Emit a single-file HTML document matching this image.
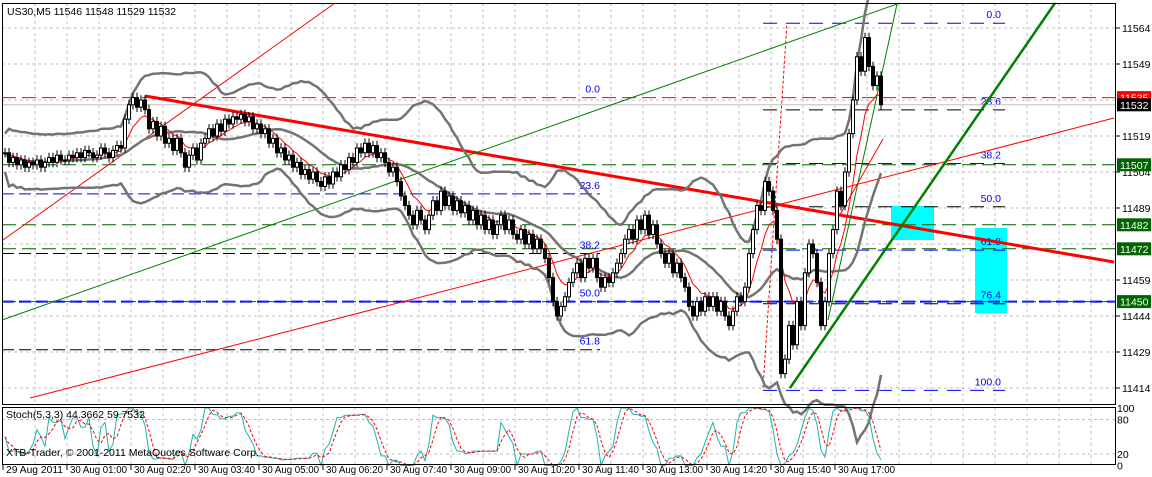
<!DOCTYPE html>
<html><head><meta charset="utf-8">
<style>
html,body{margin:0;padding:0;background:#fff;}
svg{display:block;font-family:"Liberation Sans",sans-serif;font-size:10.5px;}
</style></head>
<body>
<svg id="c" width="1152" height="477" viewBox="0 0 1152 477" xmlns="http://www.w3.org/2000/svg"></svg>
<script>
const closes=[11512,11508,11510,11507,11509,11506,11508,11507,11509,11506,11508,11510,11508,11511,11509,
11509,11511,11510,11512,11510,11513,11512,11510,11511,11514,11512,11510,11513,11515,11514,
11526,11532,11535,11531,11534,11530,
11522,11525,11519,11523,11516,11518,
11513,11518,11512,11506,11511,11514,11509,11516,11518,
11522,11519,11524,11521,11526,11524,11527,11526,11528,
11525,11527,11522,11524,11520,11522,
11516,11518,11512,11514,11509,11511,11506,
11508,11503,11505,11501,11504,11500,11498,11502,11499,
11504,11502,11507,11505,11510,11508,11514,11512,11516,11512,11515,
11510,11512,11508,11504,11506,
11500,11494,11490,11486,11482,11488,11484,11480,
11486,11492,11488,11496,11490,11494,11488,11492,11487,11490,
11484,11488,11482,11486,11480,11484,11478,11482,11486,11480,11484,11478,
11476,11480,11474,11478,11472,11476,11472,11468,
11460,11450,11444,11448,11452,
11458,11462,11466,11460,11468,11464,11468,
11460,11456,11460,11458,11462,11466,11470,11476,
11480,11476,11484,11480,11486,11478,11482,11474,
11470,11466,11470,11462,11466,11460,11456,
11448,11444,11450,11446,11452,
11448,11452,11446,11450,11444,11440,11446,
11452,11450,11456,
11470,11480,11490,11488,11500,11496,
11488,11476,11420,11426,11440,11432,11450,11440,11462,11474,11470,11458,11440,11450,
11470,11480,11496,11490,11504,11520,11534,11552,11546,11560,11548,11540,11544,11532];
const timeLabels=["29 Aug 2011","30 Aug 01:00","30 Aug 02:20","30 Aug 03:40","30 Aug 05:00","30 Aug 06:20","30 Aug 07:40","30 Aug 09:00","30 Aug 10:20","30 Aug 11:40","30 Aug 13:00","30 Aug 14:20","30 Aug 15:40","30 Aug 17:00"];
const priceTicks=[11564,11549,11519,11504,11489,11459,11444,11429,11414];
const fib1Levels=[0,23.6,38.2,50.0,61.8];
const fib2Levels=[0,23.6,38.2,50.0,61.8,76.4,100.0];
const priceBoxes=[[11535,"#ff0000"],[11532,"#000000"],[11507,"#006400"],[11482,"#006400"],[11472,"#006400"],[11450,"#006400"]];

const NS="http://www.w3.org/2000/svg";
const svg=document.getElementById('c');
function X(i){return 5+4*i;}
function Y(p){return 28+(11564-p)*2.4;}
function SY(v){return 465.5-v*0.575;}
function el(tag,attrs,parent){const e=document.createElementNS(NS,tag);for(const k in attrs)e.setAttribute(k,attrs[k]);(parent||svg).appendChild(e);return e;}
function line(x1,y1,x2,y2,stroke,w,dash,name){const e=el('line',{x1,y1,x2,y2,stroke,'stroke-width':w});if(dash)e.setAttribute('stroke-dasharray',dash);


return e;}
function text(x,y,s,fill,name,anchor){const e=el('text',{x,y,fill});e.textContent=s;if(anchor)e.setAttribute('text-anchor',anchor);


return e;}

// grid
for(let k=0;k<=10;k++){const y=28+36*k;line(2,y,1116,y,'#c0c0c0',1,'3,3','grid-line-h');}
for(let k=0;k<=33;k++){const x=35+32*k;line(x,3,x,405,'#c0c0c0',1,'3,3','grid-line-v');line(x,407,x,465,'#c0c0c0',1,'3,3','grid-line-v');}
line(2,419.5,1116,419.5,'#c0c0c0',1,'3,3','stoch-grid-80');
line(2,454,1116,454,'#c0c0c0',1,'3,3','stoch-grid-20');

// cyan rects
let r=el('rect',{x:891,y:206,width:43,height:34,fill:'#00ffff'});


r=el('rect',{x:975,y:228,width:32,height:85,fill:'#00ffff'});



// fib 1 (left)
const f1top=11535,f1rng=170;
const f1col=['#ff0000','#0000ff','#000000','#0000ff','#000000'];
fib1Levels.forEach((lv,j)=>{const p=f1top-f1rng*lv/100;const y=Y(p);
 if(j>0)line(2,y,j==3?1116:600,y,f1col[j],j==3?2:1,'12,5','fib1-level');
 text(600,y-5,lv.toFixed(1),'#0000ff','fib1-label','end');});
// fib 2 (right)
const f2top=11566,f2rng=153;
fib2Levels.forEach((lv,j)=>{const p=f2top-f2rng*lv/100;const y=Y(p);
 line(763,y,1005,y,(j%2==0)?'#0000ff':'#000000',1,'14,9','fib2-level');
 text(1001,y-5,lv.toFixed(1),'#0000ff','fib2-label','end');});

// horizontal levels
line(2,Y(11535),1116,Y(11535),'#ff0000',1,'14,6','resistance-11535');
line(2,Y(11532),1116,Y(11532),'#c0c0c0',1,null,'bid-line');
[11507,11482,11472].forEach(p=>line(2,Y(p),1116,Y(p),'#006400',1,'14,6','support-'+p));
line(2,Y(11450),1116,Y(11450),'#006400',1,'14,6','support-11450');

// trend lines
line(145,96,1114,262,'#ff0000',3,null,'main-downtrend-line');
line(3,240,335,3,'#ff0000',1,null,'red-channel-line');
line(30,398,1114,118,'#ff0000',1,null,'red-uptrend-line');
line(2,320,900,3,'#008000',1,null,'green-uptrend-line');
line(790,388,1055,3,'#008000',2.5,null,'green-steep-trend-line');
line(828,320,897,4,'#008000',1,null,'green-thin-trend-line');
line(763,388,787,23,'#ff0000',1,'3,2','red-dotted-line');
line(838,218,883,139,'#ff0000',1,null,'red-short-line');

// indicators
const n=closes.length;
const opens=closes.map((c,i)=>i?closes[i-1]:c);
const highs=closes.map((c,i)=>Math.max(c,opens[i])+2);
const lows=closes.map((c,i)=>Math.min(c,opens[i])-2);
const mid=[],up=[],dn=[],ema=[];
for(let i=0;i<n;i++){const s=closes.slice(Math.max(0,i-19),i+1);const m=s.reduce((a,b)=>a+b,0)/s.length;
 const sd=Math.sqrt(s.reduce((a,b)=>a+(b-m)*(b-m),0)/s.length);mid.push(m);up.push(m+2*sd+8);dn.push(m-2*sd-8);
 ema.push(i?ema[i-1]+(closes[i]-ema[i-1])*2/9:closes[i]);}
function poly(arr,stroke,w,name,yf){const pts=arr.map((v,i)=>X(i)+','+(yf||Y)(v).toFixed(1)).join(' ');
 const e=el('polyline',{points:pts,fill:'none',stroke,'stroke-width':w});
 
 
 return e;}
poly(up,'#737373',2.5,'bollinger-upper');
poly(dn,'#737373',2.5,'bollinger-lower');
poly(mid,'#737373',2.5,'bollinger-middle');
poly(ema,'#ff0000',1,'moving-average');

// candles
for(let i=0;i<n;i++){const x=X(i),o=opens[i],c=closes[i];
 line(x,Y(highs[i]),x,Y(lows[i]),'#000',1,null,'candle-wick');
 const top=Y(Math.max(o,c)),bot=Y(Math.min(o,c));
 const b=el('rect',{x:x-1.5,y:top,width:3,height:Math.max(1,bot-top),fill:c>=o?'#fff':'#000',stroke:'#000','stroke-width':1});
 
 }

// stochastic
const kRaw=[];for(let i=0;i<n;i++){const lo=Math.max(0,i-4);const hh=Math.max(...closes.slice(lo,i+1),...opens.slice(lo,i+1)),ll=Math.min(...closes.slice(lo,i+1),...opens.slice(lo,i+1));kRaw.push(hh>ll?(closes[i]-ll)/(hh-ll)*100:50);}
function sma(a,p){return a.map((v,i)=>{const s=a.slice(Math.max(0,i-p+1),i+1);return s.reduce((x,y)=>x+y,0)/s.length;});}
const kMain=sma(kRaw,2),kSig=sma(kMain,3);
poly(kMain,'#20b2aa',1,'stoch-main-line',SY);
const sg=poly(kSig,'#ff0000',1,'stoch-signal-line',SY);sg.setAttribute('stroke-dasharray','3,2');

// borders
r=el('rect',{x:2.5,y:3.5,width:1113,height:401,fill:'none',stroke:'#000','stroke-width':1});


r=el('rect',{x:2.5,y:407.5,width:1113,height:57,fill:'none',stroke:'#000','stroke-width':1});



// price axis
priceTicks.forEach(p=>{const y=Y(p);line(1116,y,1120,y,'#000',1,null,'price-tick');text(1122,y+4,String(p),'#000','price-tick-label');});
priceBoxes.forEach(([p,col])=>{const y=Y(p);const b=el('rect',{x:1117,y:y-6.5,width:34,height:13,fill:col});
 
 
 text(1120,y+4,String(p),'#fff','price-marker-label');});
[[100,'100'],[80,'80'],[20,'20'],[0,'0']].forEach(([v,s])=>text(1117,SY(v)+4,s,'#000','stoch-axis-label'));

// time axis
timeLabels.forEach((s,k)=>{const x=3+64*k;line(x,465,x,470,'#000',1,null,'time-tick');const t=text(x+3,473,s,'#000','time-label');t.setAttribute('textLength','57');t.setAttribute('lengthAdjust','spacingAndGlyphs');t.setAttribute('font-size','10');});

text(7,15,'US30,M5  11546 11548 11529 11532','#000','chart-title');
text(6,418,'Stoch(5,3,3) 44.3662 59.7532','#000','stoch-label');
text(6,456,'XTB-Trader, © 2001-2011 MetaQuotes Software Corp.','#000','copyright-label');
</script>
</body></html>
